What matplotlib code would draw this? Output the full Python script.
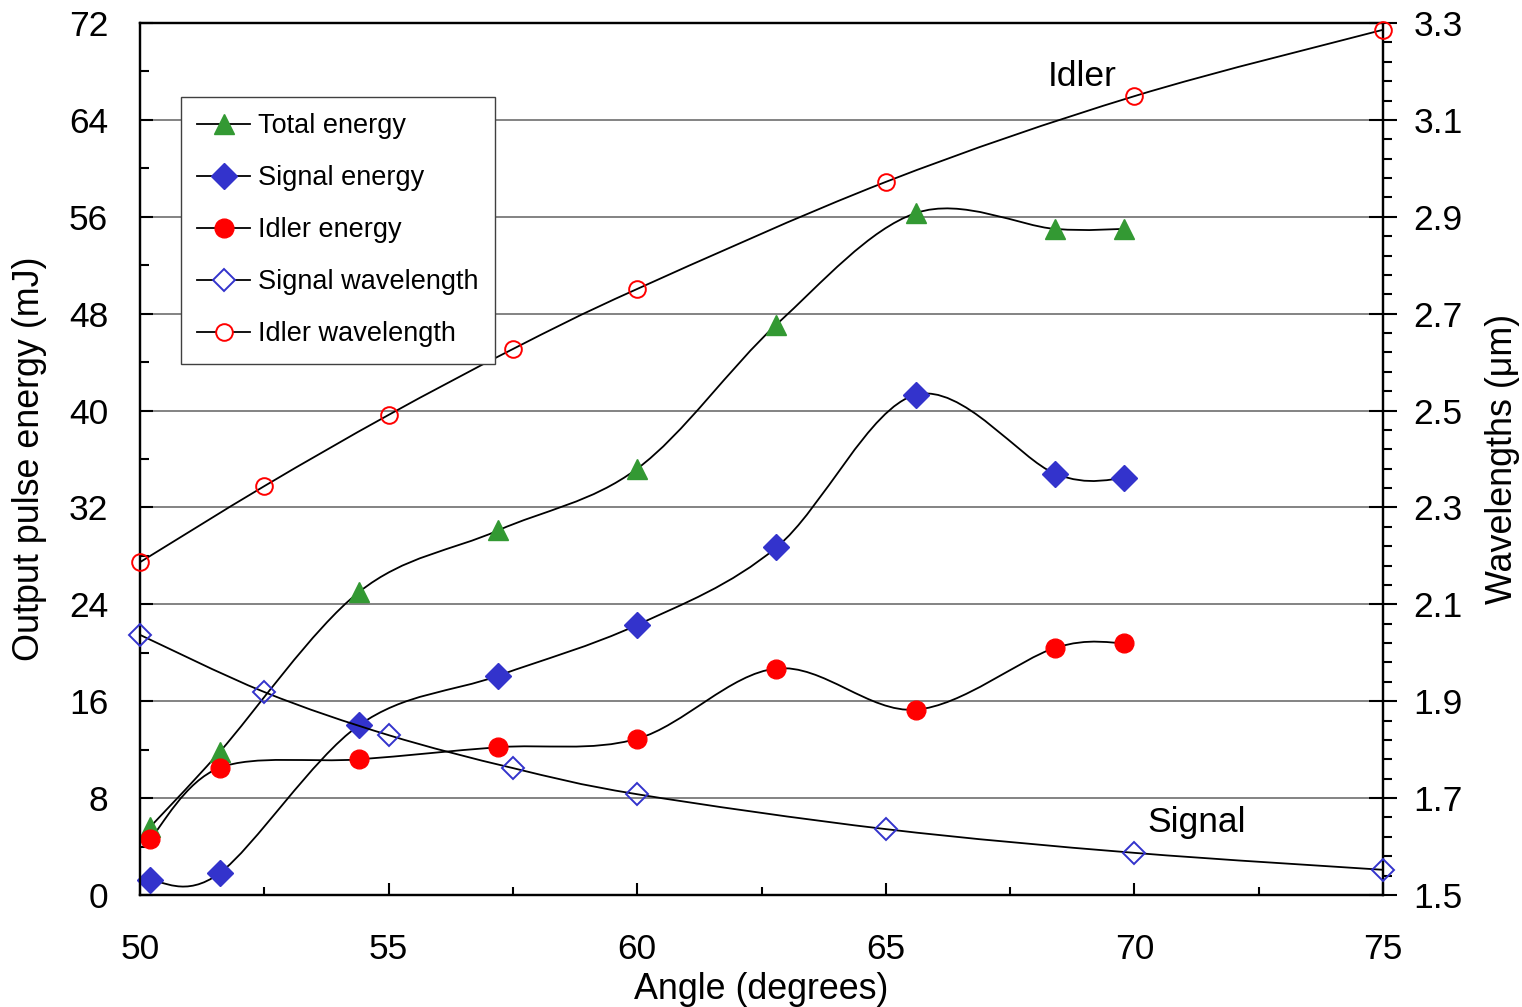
import numpy as np
import matplotlib.pyplot as plt
from matplotlib.path import Path
from matplotlib.patches import PathPatch
from matplotlib.lines import Line2D
from matplotlib.ticker import MultipleLocator

plt.rcParams['font.family'] = ['Liberation Sans', 'DejaVu Sans']

# energies (mJ) vs angle
angle_e = [50.2, 51.6, 54.4, 57.2, 60.0, 62.8, 65.6, 68.4, 69.8]
total_energy = [5.6, 11.8, 25.0, 30.1, 35.2, 47.1, 56.3, 55.0, 55.0]
signal_energy = [1.2, 1.8, 14.0, 18.1, 22.3, 28.7, 41.3, 34.8, 34.4]
idler_energy = [4.6, 10.5, 11.2, 12.2, 12.9, 18.7, 15.3, 20.4, 20.8]

# wavelengths (um) vs angle
angle_w = [50, 52.5, 55, 57.5, 60, 65, 70, 75]
signal_wl = [2.037, 1.919, 1.830, 1.762, 1.708, 1.636, 1.587, 1.552]
idler_wl = [2.187, 2.344, 2.491, 2.627, 2.751, 2.972, 3.149, 3.286]

wl_ticks = [1.5, 1.7, 1.9, 2.1, 2.3, 2.5, 2.7, 2.9, 3.1, 3.3]

GREEN = '#339933'
BLUE = '#3333cc'
RED = '#ff0000'


def smooth_path(x, y):
    # excel-like smoothed line: bezier segments through the points
    x = np.asarray(x, float)
    y = np.asarray(y, float)
    n = len(x)
    verts = [(x[0], y[0])]
    codes = [Path.MOVETO]
    for i in range(n - 1):
        i0 = max(i - 1, 0)
        i3 = min(i + 2, n - 1)
        c1 = (x[i] + (x[i + 1] - x[i0]) / 6, y[i] + (y[i + 1] - y[i0]) / 6)
        c2 = (x[i + 1] - (x[i3] - x[i]) / 6, y[i + 1] - (y[i3] - y[i]) / 6)
        verts += [c1, c2, (x[i + 1], y[i + 1])]
        codes += [Path.CURVE4] * 3
    return Path(verts, codes)


def curve(ax, x, y):
    ax.add_patch(PathPatch(smooth_path(x, y), fill=False, edgecolor='k',
                           lw=1.3, zorder=2))


fig = plt.figure(figsize=(15.22, 10.07), dpi=100)
ax = fig.add_axes([0.09198, 0.11122, 0.8167, 0.86594])
ax2 = ax.twinx()

ax.set_xlim(50, 75)
ax.set_ylim(0, 72)
ax2.set_ylim(1.5, 3.3)

ax.grid(axis='y', which='major', color='#7a7a7a', lw=1.3, zorder=0)
ax.set_axisbelow(True)

curve(ax, angle_e, total_energy)
curve(ax, angle_e, signal_energy)
curve(ax, angle_e, idler_energy)
curve(ax2, angle_w, signal_wl)
curve(ax2, angle_w, idler_wl)

mk = dict(ls='none', zorder=3, clip_on=False)
ax.plot(angle_e, total_energy, marker='^', ms=14, mfc=GREEN, mec=GREEN, **mk)
ax.plot(angle_e, signal_energy, marker='D', ms=13, mfc=BLUE, mec=BLUE, **mk)
ax.plot(angle_e, idler_energy, marker='o', ms=13.5, mfc=RED, mec=RED, **mk)
ax2.plot(angle_w, signal_wl, marker='D', ms=11.5, mfc='none', mec=BLUE, mew=1.4, **mk)
ax2.plot(angle_w, idler_wl, marker='o', ms=12, mfc='none', mec=RED, mew=1.4, **mk)

ax.text(68.95, 66.8, 'Idler', fontsize=25.5, ha='center', va='baseline')
ax.text(71.26, 5.2, 'Signal', fontsize=25.5, ha='center', va='baseline')

# ticks
ax.xaxis.set_major_locator(MultipleLocator(5))
ax.xaxis.set_minor_locator(MultipleLocator(2.5))
ax.yaxis.set_major_locator(MultipleLocator(8))
ax.yaxis.set_minor_locator(MultipleLocator(4))
ax2.set_yticks(wl_ticks)
ax2.set_yticks(np.linspace(1.5, 3.3, 46), minor=True)
ax2.set_yticklabels(['%.1f' % t for t in wl_ticks])
ax2.set_ylim(1.5, 3.3)

ax.tick_params(axis='y', which='major', direction='in', length=9, width=1.5,
               right=False, labelsize=25.5, pad=23)
ax.tick_params(axis='y', which='minor', direction='in', length=6.5, width=1.5, right=False)
ax.tick_params(axis='x', which='major', direction='in', length=9, width=1.5,
               top=False, labelsize=25.5, pad=27)
ax.tick_params(axis='x', which='minor', direction='in', length=6, width=1.5, top=False)
ax2.tick_params(axis='y', which='major', direction='inout', length=19.5, width=1.5,
                labelsize=25.5, pad=12)
ax2.tick_params(axis='y', which='minor', direction='out', length=6.5, width=1.5)

for a in (ax, ax2):
    for s in a.spines.values():
        s.set_linewidth(1.6)
        s.set_color('k')

ax.set_xlabel('Angle (degrees)', fontsize=25.8)
ax.xaxis.set_label_coords(0.5, -0.088)
ax.set_ylabel('Output pulse energy (mJ)', fontsize=25.8)
ax.yaxis.set_label_coords(-0.075, 0.5)
ax2.set_ylabel('Wavelengths (μm)', fontsize=25.8, rotation=90)
ax2.yaxis.set_label_coords(1.082, 0.5)

handles = [
    Line2D([], [], color='k', lw=1.3, marker='^', ms=14, mfc=GREEN, mec=GREEN),
    Line2D([], [], color='k', lw=1.3, marker='D', ms=13, mfc=BLUE, mec=BLUE),
    Line2D([], [], color='k', lw=1.3, marker='o', ms=13.5, mfc=RED, mec=RED),
    Line2D([], [], color='k', lw=1.3, marker='D', ms=11.5, mfc='white', mec=BLUE, mew=1.4),
    Line2D([], [], color='k', lw=1.3, marker='o', ms=12, mfc='white', mec=RED, mew=1.4),
]
labels = ['Total energy', 'Signal energy', 'Idler energy',
          'Signal wavelength', 'Idler wavelength']
leg = ax2.legend(handles, labels, loc='upper left', bbox_to_anchor=(0.033, 0.915),
                 borderaxespad=0, fontsize=19.5, frameon=True, fancybox=False,
                 edgecolor='#404040', framealpha=1, handlelength=1.95,
                 handletextpad=0.3, labelspacing=0.96, borderpad=0.6, numpoints=1)
leg.get_frame().set_linewidth(1.0)

fig.savefig('out.png', dpi=100)
